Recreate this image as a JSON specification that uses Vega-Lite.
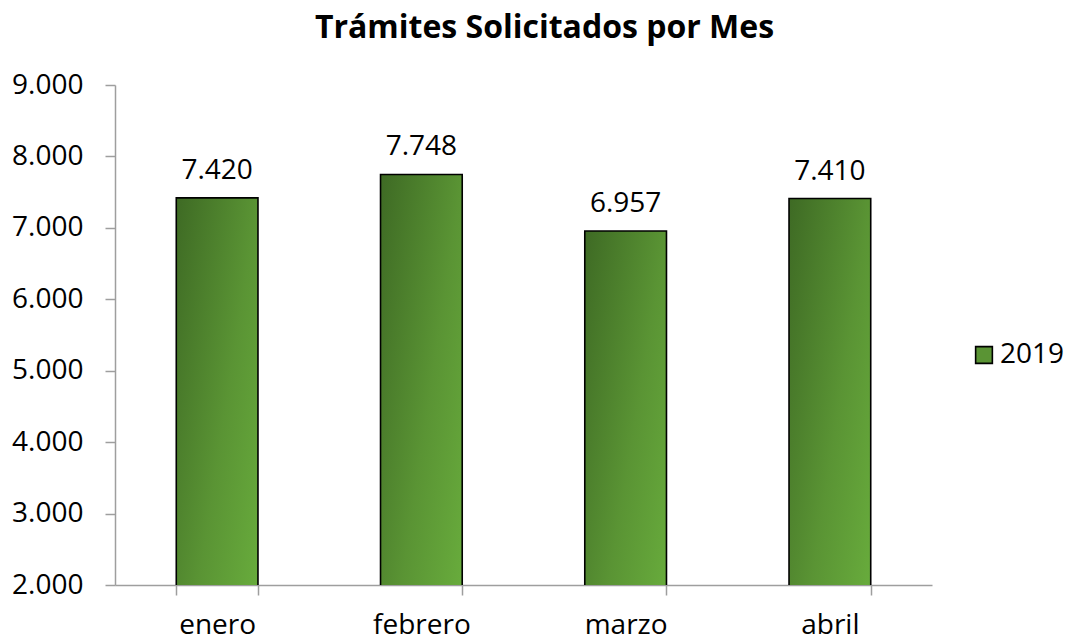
{
  "$schema": "https://vega.github.io/schema/vega-lite/v6.json",
  "width": 817,
  "height": 500,
  "autosize": {"type": "none"},
  "padding": {"left": 115, "top": 85, "right": 139, "bottom": 55},
  "background": "white",
  "config": {
    "locale": {"number": {"decimal": ",", "thousands": ".", "grouping": [3], "currency": ["", " €"]}},
    "view": {"stroke": null},
    "font": "Open Sans"
  },
  "title": {
    "text": "Trámites Solicitados por Mes",
    "font": "Open Sans",
    "fontSize": 32,
    "fontWeight": "bold",
    "color": "#000000",
    "anchor": "middle",
    "dx": 21,
    "offset": 26
  },
  "data": {
    "values": [
      {"mes": "enero", "valor": 7420, "serie": "2019"},
      {"mes": "febrero", "valor": 7748, "serie": "2019"},
      {"mes": "marzo", "valor": 6957, "serie": "2019"},
      {"mes": "abril", "valor": 7410, "serie": "2019"}
    ]
  },
  "encoding": {
    "x": {
      "field": "mes",
      "type": "nominal",
      "sort": null,
      "scale": {"paddingInner": 0.6, "paddingOuter": 0.3},
      "axis": {
        "title": null,
        "labelAngle": 0,
        "labelFontSize": 28,
        "labelColor": "#000000",
        "labelFont": "Open Sans",
        "labelBaseline": "alphabetic",
        "labelPadding": 38,
        "domainColor": "#9e9e9e",
        "domainWidth": 1.5,
        "ticks": true,
        "tickColor": "#9e9e9e",
        "tickWidth": 1.5,
        "tickSize": 10,
        "tickBand": "extent",
        "tickExtra": true
      }
    },
    "y": {
      "field": "valor",
      "type": "quantitative",
      "scale": {"domain": [2000, 9000], "nice": false, "zero": false},
      "axis": {
        "title": null,
        "values": [2000, 3000, 4000, 5000, 6000, 7000, 8000, 9000],
        "format": ",.0f",
        "grid": false,
        "labelFontSize": 28,
        "labelColor": "#000000",
        "labelFont": "Open Sans",
        "labelPadding": 22,
        "domainColor": "#9e9e9e",
        "domainWidth": 1.5,
        "tickColor": "#9e9e9e",
        "tickWidth": 1.5,
        "tickSize": 10
      }
    }
  },
  "layer": [
    {
      "mark": {
        "type": "bar",
        "clip": true,
        "stroke": "#000000",
        "strokeWidth": 1.6,
        "fill": {"gradient": "linear", "x1": 0, "y1": 0, "x2": 1, "y2": 1,
          "stops": [{"offset": 0, "color": "#3e6a24"}, {"offset": 0.5, "color": "#5a9434"}, {"offset": 1, "color": "#6db43f"}]}
      }
    },
    {
      "mark": {"type": "point", "shape": "square", "filled": true, "opacity": 0, "size": 1},
      "encoding": {
        "fill": {
          "field": "serie",
          "type": "nominal",
          "scale": {"range": ["#5a9434"]},
          "legend": {
            "title": null,
            "orient": "none",
            "legendX": 855,
            "legendY": 256,
            "symbolType": "square",
            "symbolSize": 280,
            "symbolOpacity": 1,
            "symbolStrokeColor": "#000000",
            "symbolStrokeWidth": 1.6,
            "labelFontSize": 28,
            "labelFont": "Open Sans",
            "labelColor": "#000000",
            "labelOffset": 2
          }
        }
      }
    },
    {
      "mark": {"type": "text", "baseline": "alphabetic", "dy": -19, "fontSize": 28, "font": "Open Sans", "color": "#000000"},
      "encoding": {
        "text": {"field": "valor", "type": "quantitative", "format": ",.0f"}
      }
    }
  ]
}
